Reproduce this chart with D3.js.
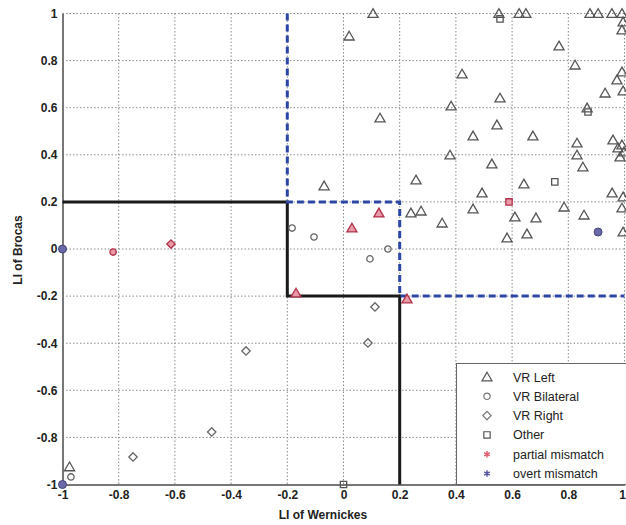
<!DOCTYPE html>
<html><head><meta charset="utf-8">
<script src="https://cdn.jsdelivr.net/npm/d3@7"></script>
<style>body{margin:0;background:#fff}svg{display:block}text{font-family:"Liberation Sans",Arial,sans-serif}</style>
</head><body><svg id="c" width="626" height="525"></svg>
<script>
// ---- data ----
const ticks = [-1,-0.8,-0.6,-0.4,-0.2,0,0.2,0.4,0.6,0.8,1];
const tickLabels = ["-1","-0.8","-0.6","-0.4","-0.2","0","0.2","0.4","0.6","0.8","1"];
const vrLeftX = [0.105,0.020,0.553,0.625,0.649,0.877,0.906,0.955,0.991,0.995,0.991,0.767,0.422,0.824,0.557,0.383,0.130,0.546,0.461,0.674,0.867,0.931,0.973,0.991,0.995,0.831,0.831,0.852,0.379,0.528,0.258,-0.069,0.493,0.642,0.461,0.240,0.276,0.351,0.610,0.685,0.785,0.856,0.582,0.653,0.956,0.995,0.991,0.995,0.959,0.977,0.991,0.998,0.984,-0.975];
const vrLeftY = [1.0,0.904,1.0,1.0,1.0,1.0,1.0,1.0,1.0,0.964,0.930,0.862,0.743,0.781,0.641,0.607,0.556,0.527,0.480,0.480,0.599,0.662,0.718,0.752,0.671,0.450,0.399,0.348,0.399,0.361,0.293,0.268,0.238,0.276,0.170,0.153,0.161,0.110,0.136,0.132,0.178,0.144,0.047,0.064,0.238,0.221,0.174,0.072,0.463,0.429,0.442,0.412,0.391,-0.925];
const vrBilatX = [-0.105,-0.183,0.158,0.094,-0.970];
const vrBilatY = [0.051,0.089,0.0,-0.042,-0.968];
const vrRightX = [0.112,0.087,-0.347,-0.469,-0.749];
const vrRightY = [-0.246,-0.399,-0.433,-0.777,-0.883];
const otherX = [0.557,0.752,0.870,0.0];
const otherY = [0.977,0.285,0.582,-1.0];
// partial mismatch: shape + coordinates
const partialShape = ["triangle","triangle","triangle","triangle","circle","diamond","square"];
const partialX = [0.126,0.030,-0.169,0.226,-0.820,-0.614,0.589];
const partialY = [0.153,0.089,-0.187,-0.212,-0.013,0.021,0.200];
const overtX = [-1.0,-1.0,0.906];
const overtY = [0.0,-1.0,0.072];
// boundary lines
const blackLineX = [-1,-0.2,-0.2,0.2,0.2];
const blackLineY = [0.2,0.2,-0.2,-0.2,-1];
const blueLineX = [-0.2,-0.2,0.2,0.2,1];
const blueLineY = [1,0.2,0.2,-0.2,-0.2];
const legendLabels = ["VR Left","VR Bilateral","VR Right","Other","partial mismatch","overt mismatch"];

// ---- drawing ----
const svg = d3.select("#c");
const x = d3.scaleLinear().domain([-1,1]).range([62.5,624.5]);
const y = d3.scaleLinear().domain([-1,1]).range([484.5,13.5]);

// grid
const grid = svg.append("g");
grid.selectAll("line.gx").data(ticks).join("line")
  .attr("x1",d=>x(d)).attr("x2",d=>x(d)).attr("y1",y(1)).attr("y2",y(-1))
  .attr("stroke","#8a8a8a").attr("stroke-width",1).attr("stroke-dasharray","1.5,2");
grid.selectAll("line.gy").data(ticks).join("line")
  .attr("y1",d=>y(d)).attr("y2",d=>y(d)).attr("x1",x(-1)).attr("x2",x(1))
  .attr("stroke","#8a8a8a").attr("stroke-width",1).attr("stroke-dasharray","1.5,2");

// axes
const fmt = d => tickLabels[ticks.indexOf(d)];
const xAxis = svg.append("g").attr("transform",`translate(0,${y(-1)})`)
  .call(d3.axisBottom(x).tickValues(ticks).tickFormat(fmt).tickSize(0).tickPadding(6));
const yAxis = svg.append("g").attr("transform",`translate(${x(-1)},0)`)
  .call(d3.axisLeft(y).tickValues(ticks).tickFormat(fmt).tickSize(0).tickPadding(5));
[xAxis,yAxis].forEach(a=>{
  a.select(".domain").attr("stroke","#777").attr("stroke-width",2);
  a.selectAll("text").attr("font-size",12).attr("font-weight","bold").attr("fill","#222")
   .attr("font-family","Liberation Sans, Arial, sans-serif");
});
// keep the last x tick label inside the picture
xAxis.selectAll(".tick").filter(d=>d===1).select("text").attr("text-anchor","end").attr("dx",1);

// boundary lines
const line = d3.line().x(d=>x(d[0])).y(d=>y(d[1]));
svg.append("path").datum(blackLineX.map((v,i)=>[v,blackLineY[i]])).attr("d",line)
  .attr("fill","none").attr("stroke","#1a1a1a").attr("stroke-width",3);
svg.append("path").datum(blueLineX.map((v,i)=>[v,blueLineY[i]])).attr("d",line)
  .attr("fill","none").attr("stroke","#2c46a6").attr("stroke-width",3).attr("stroke-dasharray","7,4");

// symbols
const squareDiamond = {draw(ctx, size){ const r = Math.sqrt(size)/1.35; ctx.moveTo(0,-r); ctx.lineTo(r,0); ctx.lineTo(0,r); ctx.lineTo(-r,0); ctx.closePath(); }};
const sym = {
  triangle: d3.symbol().type(d3.symbolTriangle).size(44),
  circle: d3.symbol().type(d3.symbolCircle).size(32),
  diamond: d3.symbol().type(squareDiamond).size(32),
  square: d3.symbol().type(d3.symbolSquare).size(40)
};
function drawSet(xs, ys, shape, stroke, fill){
  svg.append("g").selectAll("path").data(xs.map((v,i)=>[v,ys[i]])).join("path")
    .attr("d", sym[shape]())
    .attr("transform", d=>`translate(${x(d[0])},${y(d[1]) + (shape==="triangle"?1:0)})`)
    .attr("fill", fill).attr("stroke", stroke).attr("stroke-width",1.3);
}
drawSet(vrLeftX, vrLeftY, "triangle", "#555", "none");
drawSet(vrBilatX, vrBilatY, "circle", "#666", "none");
drawSet(vrRightX, vrRightY, "diamond", "#666", "none");
drawSet(otherX, otherY, "square", "#555", "none");
// partial mismatch
const pg = svg.append("g");
partialX.forEach((v,i)=>{
  pg.append("path").attr("d", sym[partialShape[i]]())
    .attr("transform",`translate(${x(v)},${y(partialY[i]) + (partialShape[i]==="triangle"?1:0)})`)
    .attr("fill","#e89aa8").attr("stroke","#b03048").attr("stroke-width",1.3);
});
// overt mismatch
svg.append("g").selectAll("circle").data(overtX.map((v,i)=>[v,overtY[i]])).join("circle")
  .attr("cx",d=>x(d[0])).attr("cy",d=>y(d[1])).attr("r",4)
  .attr("fill","#6a6aa8").attr("stroke","#44447a").attr("stroke-width",1);

// legend
const lg = svg.append("g");
lg.append("rect").attr("x",456.5).attr("y",363.5).attr("width",175).attr("height",121)
  .attr("fill","#fff").attr("stroke","#666").attr("stroke-width",1);
const legShapes = ["triangle","circle","diamond","square","star","star"];
const legCols = ["#555","#777","#777","#555","#e06070","#5858a0"];
legendLabels.forEach((lab,i)=>{
  const yy = 377 + i*19.3;
  const s = legShapes[i];
  if (s === "star") {
    lg.append("path").attr("d", d3.symbol().type(d3.symbolAsterisk).size(30)())
      .attr("transform",`translate(487,${yy})`).attr("fill","none")
      .attr("stroke",legCols[i]).attr("stroke-width",1.5);
  } else {
    lg.append("path").attr("d", sym[s]())
      .attr("transform",`translate(487,${yy + (s==="triangle"?1:0)})`)
      .attr("fill","none").attr("stroke",legCols[i]).attr("stroke-width",1.2);
  }
  lg.append("text").attr("x",513).attr("y",yy+4.5).attr("font-size",12.5)
    .attr("fill","#222").text(lab);
});

// axis titles
svg.append("text").attr("x",323).attr("y",519).attr("text-anchor","middle")
  .attr("font-size",12).attr("font-weight","bold").attr("fill","#222").text("LI of Wernickes");
svg.append("text").attr("transform","translate(22,250) rotate(-90)").attr("text-anchor","middle")
  .attr("font-size",12).attr("font-weight","bold").attr("fill","#222").text("LI of Brocas");
</script></body></html>
